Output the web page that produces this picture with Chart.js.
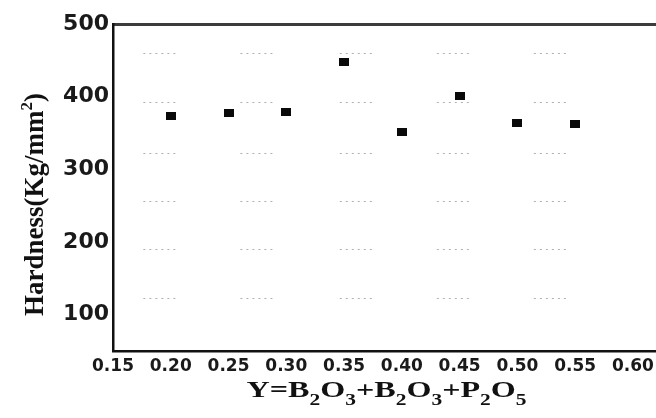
<!DOCTYPE html>
<html>
<head>
<meta charset="utf-8">
<script src="https://cdn.jsdelivr.net/npm/chart.js@4.4.0/dist/chart.umd.min.js"></script>
<style>
  html, body { margin: 0; padding: 0; background: #fff; }
  #wrap { width: 656px; height: 418px; }
</style>
</head>
<body>
<div id="wrap"><canvas id="hardness-chart" width="656" height="418"></canvas></div>
<script>
// glass composition Y and measured hardness (Kg/mm^2)
const composition = [0.20, 0.25, 0.30, 0.35, 0.40, 0.45, 0.50, 0.55];
const hardness = [374, 377, 379, 448, 352, 401, 364, 363];

const xTicks = [0.15, 0.20, 0.25, 0.30, 0.35, 0.40, 0.45, 0.50, 0.55, 0.60];
const yTicks = [100, 200, 300, 400, 500];

// faint dotted guide marks printed behind the points
const guideCols = [0.191, 0.275, 0.361, 0.445, 0.529];
const guideRows = [460, 392, 323, 256, 190, 123];

// axis titles as [text, level] pieces: 1 = subscript, -1 = superscript
const xTitleParts = [['Y=B', 0], ['2', 1], ['O', 0], ['3', 1], ['+B', 0], ['2', 1], ['O', 0], ['3', 1], ['+P', 0], ['2', 1], ['O', 0], ['5', 1]];
const yTitleParts = [['Hardness(Kg/mm', 0], ['2', -1], [')', 0]];

const tickFont = (size) => ({ family: '"DejaVu Sans", sans-serif', weight: 'bold', size: size });

// solid black block used as the point marker
const marker = document.createElement('canvas');
marker.width = 10;
marker.height = 8;
const mctx = marker.getContext('2d');
mctx.fillStyle = '#0a0a0a';
mctx.fillRect(0, 0, 10, 8);

function richText(ctx, parts, size, ratio, shift) {
    const small = Math.round(size * ratio);
    const fontFor = lvl => `bold ${lvl ? small : size}px "Liberation Serif", "Times New Roman", serif`;
    let total = 0;
    const widths = parts.map(([t, lvl]) => {
        ctx.font = fontFor(lvl);
        const w = ctx.measureText(t).width;
        total += w;
        return w;
    });
    let cx = -total / 2;
    parts.forEach(([t, lvl], i) => {
        ctx.font = fontFor(lvl);
        ctx.fillText(t, cx, lvl * shift);
        cx += widths[i];
    });
}

const guidePlugin = {
    id: 'guides',
    beforeDatasetsDraw(chart) {
        const { ctx, scales: { x, y } } = chart;
        ctx.save();
        ctx.strokeStyle = '#b0b0b0';
        ctx.lineWidth = 1;
        ctx.setLineDash([2, 4]);
        guideRows.forEach(r => {
            const py = Math.round(y.getPixelForValue(r)) + 0.5;
            guideCols.forEach(c => {
                const px = x.getPixelForValue(c);
                ctx.beginPath();
                ctx.moveTo(px - 17, py);
                ctx.lineTo(px + 17, py);
                ctx.stroke();
            });
        });
        ctx.restore();
    }
};

const titlePlugin = {
    id: 'axisTitles',
    afterDraw(chart) {
        const { ctx, chartArea } = chart;
        ctx.save();
        ctx.fillStyle = '#111';
        ctx.textAlign = 'left';
        ctx.textBaseline = 'alphabetic';

        ctx.save();
        ctx.translate((chartArea.left + chartArea.right) / 2 + 2, chartArea.bottom + 46);
        ctx.scale(1.34, 1);
        richText(ctx, xTitleParts, 24, 0.68, 8);
        ctx.restore();

        ctx.save();
        ctx.translate(43, (chartArea.top + chartArea.bottom) / 2 + 17);
        ctx.rotate(-Math.PI / 2);
        richText(ctx, yTitleParts, 27, 0.62, 11);
        ctx.restore();

        ctx.restore();
    }
};

new Chart(document.getElementById('hardness-chart'), {
    type: 'scatter',
    data: {
        datasets: [{
            label: 'Hardness',
            data: composition.map((c, i) => ({ x: c, y: hardness[i] })),
            pointStyle: marker,
            pointRadius: 5,
            backgroundColor: '#0a0a0a',
            borderColor: '#0a0a0a'
        }]
    },
    options: {
        responsive: false,
        animation: false,
        layout: { padding: 0, autoPadding: false },
        plugins: {
            legend: { display: false },
            tooltip: { enabled: false }
        },
        scales: {
            x: {
                type: 'linear',
                position: 'bottom',
                min: 0.15,
                max: 0.62,
                afterBuildTicks: s => { s.ticks = xTicks.map(v => ({ value: v })); },
                afterFit: s => {
                    s.height = 67;
                    s.paddingLeft = 0;
                    s.paddingRight = 0;
                },
                grid: { display: false, drawTicks: false },
                border: { color: '#111', width: 2.5 },
                ticks: {
                    color: '#1a1a1a',
                    padding: 5,
                    maxRotation: 0,
                    autoSkip: false,
                    font: tickFont(17),
                    callback: v => v.toFixed(2)
                }
            },
            xTop: {
                type: 'linear',
                position: 'top',
                afterFit: s => {
                    s.height = 24;
                    s.paddingLeft = 0;
                    s.paddingRight = 0;
                },
                grid: { display: false, drawTicks: false },
                border: { color: '#3c3c3c', width: 3 },
                ticks: { display: false }
            },
            y: {
                type: 'linear',
                position: 'left',
                min: 50,
                max: 500,
                afterBuildTicks: s => { s.ticks = yTicks.map(v => ({ value: v })); },
                afterFit: s => { s.width = 113; },
                grid: { display: false, drawTicks: false },
                border: { color: '#111', width: 2.5 },
                ticks: {
                    color: '#1a1a1a',
                    padding: 4,
                    font: tickFont(22)
                }
            }
        }
    },
    plugins: [guidePlugin, titlePlugin]
});
</script>
</body>
</html>
